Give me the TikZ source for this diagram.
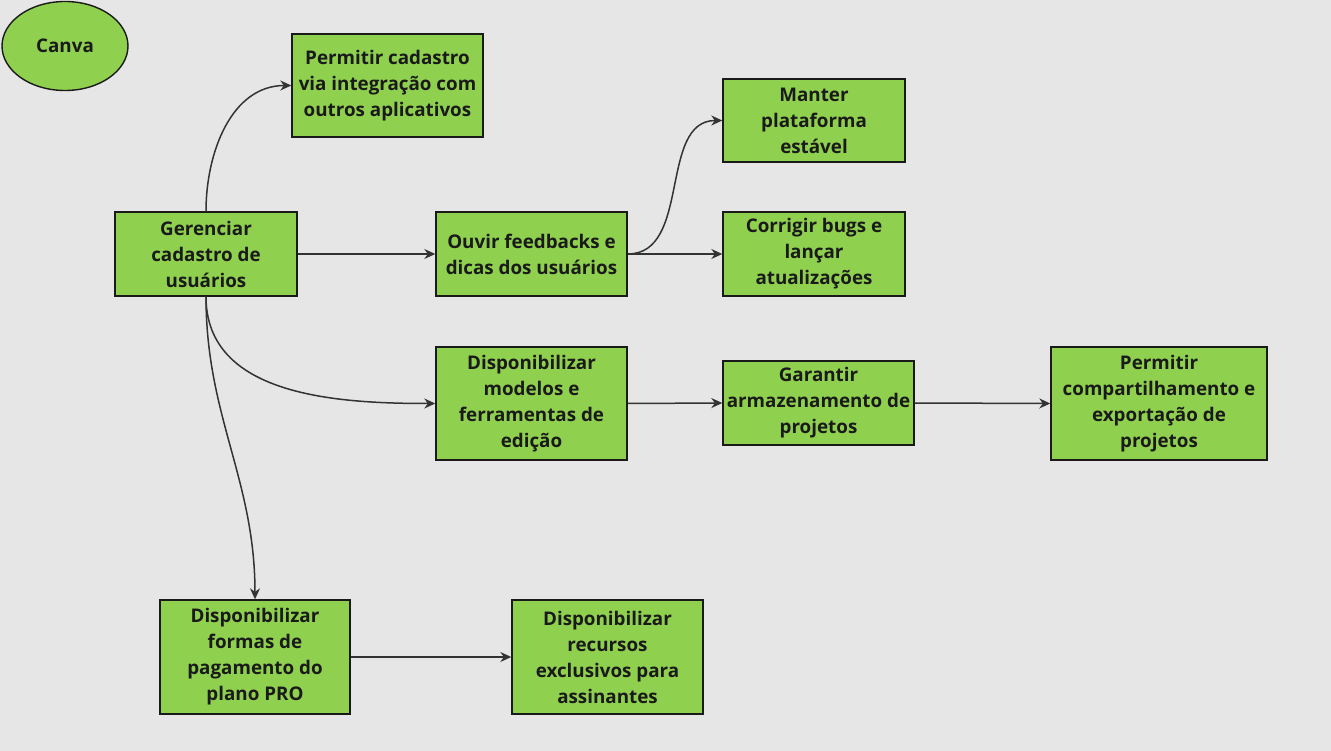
\documentclass[tikz,border=0pt]{standalone}
\usepackage{fontspec}
\setmainfont{Open Sans}
\usetikzlibrary{arrows.meta,shapes.geometric}
\definecolor{bg}{HTML}{E6E6E6}
\definecolor{boxgreen}{HTML}{8FD14F}
\definecolor{edge}{HTML}{333333}
\definecolor{txt}{HTML}{1A1A1A}
\tikzset{
  box/.style={draw=txt, line width=1.4pt, fill=boxgreen, rectangle, align=center,
    inner sep=0pt, font=\bfseries\fontsize{18.8}{26}\selectfont, text=txt},
  oval/.style={box, ellipse},
  conn/.style={draw=edge, line width=1.5pt, -{Stealth[length=11pt,width=10pt]}}
}
\begin{document}
\begin{tikzpicture}[x=1pt,y=-1pt]
\fill[bg] (0,0) rectangle (1331,751);
\useasboundingbox (0,0) rectangle (1331,751);
\node[oval, minimum width=126pt, minimum height=89pt] (canva) at (65,46) {Canva};
\node[box, minimum width=191pt, minimum height=103pt] (perm) at (387.5,85.5) {Permitir cadastro\\via integração com\\outros aplicativos};
\node[box, minimum width=182pt, minimum height=84pt] (ger) at (206,254) {Gerenciar\\cadastro de\\usuários};
\node[box, minimum width=191pt, minimum height=84pt] (ouvir) at (531.5,254) {Ouvir feedbacks e\\dicas dos usuários};
\node[box, minimum width=182pt, minimum height=83pt] (manter) at (814,120.5) {Manter\\plataforma\\estável};
\node[box, minimum width=182pt, minimum height=84pt] (corr) at (814,254) {Corrigir bugs e\\lançar\\atualizações};
\node[box, minimum width=191pt, minimum height=113pt] (modelos) at (531.5,403.5) {Disponibilizar\\modelos e\\ferramentas de\\edição};
\node[box, minimum width=191pt, minimum height=84pt] (garantir) at (818.5,403) {Garantir\\armazenamento de\\projetos};
\node[box, minimum width=216pt, minimum height=113pt] (compart) at (1159,403.5) {Permitir\\compartilhamento e\\exportação de\\projetos};
\node[box, minimum width=190pt, minimum height=114pt] (formas) at (255,657) {Disponibilizar\\formas de\\pagamento do\\plano PRO};
\node[box, minimum width=191pt, minimum height=114pt] (recursos) at (607.5,657) {Disponibilizar\\recursos\\exclusivos para\\assinantes};
\draw[conn] (ger.north) to[out=90,in=180] (perm.west);
\draw[conn] (ger.east) -- (ouvir.west);
\draw[conn] (ouvir.east) to[out=0,in=180] (manter.west);
\draw[conn] (ouvir.east) -- (corr.west);
\draw[conn] (ger.south) to[out=-90,in=180] (modelos.west);
\draw[conn] (ger.south) to[out=-90,in=90] (formas.north);
\draw[conn] (modelos.east) -- (garantir.west);
\draw[conn] (garantir.east) -- (compart.west);
\draw[conn] (formas.east) -- (recursos.west);
\end{tikzpicture}
\end{document}
